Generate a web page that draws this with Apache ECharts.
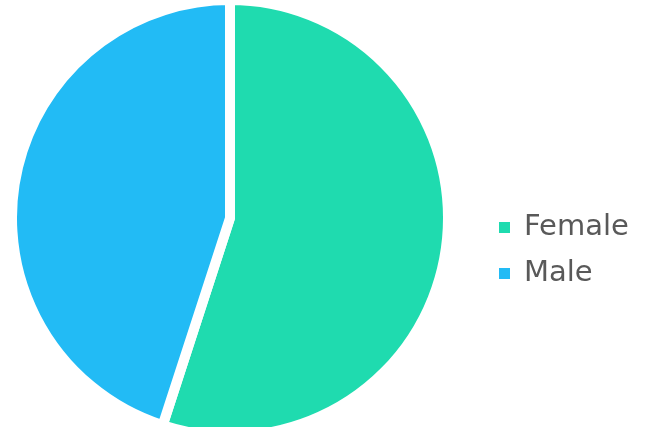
<!DOCTYPE html>
<html>
<head>
<meta charset="utf-8">
<script src="https://cdn.jsdelivr.net/npm/echarts@6/dist/echarts.min.js"></script>
<style>html,body{margin:0;padding:0;background:#fff}#c{width:646px;height:427px}</style>
</head>
<body>
<div id="c"></div>
<script>
const categories = ["Female", "Male"];
const values = [55, 45];
const colors = ["#1fdbaf", "#22bbf5"];

const chart = echarts.init(document.getElementById('c'), null, {renderer: 'canvas'});
chart.setOption({
  animation: false,
  color: colors,
  legend: {
    orient: 'vertical',
    left: 492,
    top: 208,
    icon: 'rect',
    itemWidth: 13,
    itemHeight: 13,
    itemGap: 17,
    textStyle: {color: '#595959', fontSize: 29, fontFamily: 'DejaVu Sans', padding: [0, 0, 0, 8]},
    data: categories
  },
  series: [{
    type: 'pie',
    center: [230, 218],
    radius: [0, 218],
    startAngle: 90,
    clockwise: true,
    label: {show: false},
    labelLine: {show: false},
    itemStyle: {borderColor: '#ffffff', borderWidth: 10},
    emphasis: {disabled: true},
    data: categories.map((c, i) => ({name: c, value: values[i]}))
  }]
});
</script>
</body>
</html>
